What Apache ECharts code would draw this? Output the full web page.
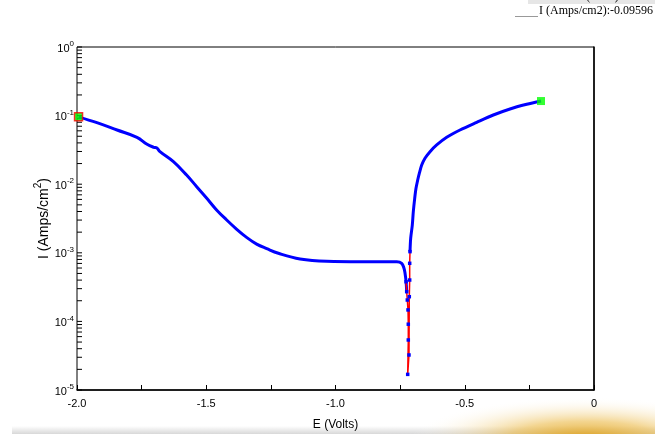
<!DOCTYPE html>
<html>
<head>
<meta charset="utf-8">
<title>Tafel</title>
<script src="https://cdn.jsdelivr.net/npm/echarts@6/dist/echarts.min.js"></script>
<style>
	html, body { margin: 0; padding: 0; background: #fff; }
	#chart { width: 655px; height: 434px; }
</style>
</head>
<body>
<div id="chart"></div>
<script>
// potential (V) and current density (A/cm2) in scan order
const potential = [
	-1.994, -1.923, -1.845, -1.768, -1.729, -1.703, -1.691, -1.679, -1.627, -1.576,
	-1.537, -1.498, -1.460, -1.421, -1.382, -1.344, -1.305, -1.266, -1.221, -1.137,
	-1.034, -0.905, -0.763, -0.744, -0.735, -0.731, -0.727, -0.7246, -0.7222, -0.7195,
	-0.7184, -0.7184, -0.7207, -0.7157, -0.7145, -0.7130, -0.7130, -0.7118, -0.7091, -0.7029,
	-0.6990, -0.6936, -0.6886, -0.6820, -0.6758, -0.6665, -0.6538, -0.6344, -0.6085, -0.5698,
	-0.5184, -0.4538, -0.3896, -0.3250, -0.2603, -0.2050
];
const current = [
	0.0960, 0.0789, 0.0617, 0.0483, 0.0382, 0.0345, 0.0337, 0.0298, 0.0213, 0.0136,
	0.00920, 0.00622, 0.00421, 0.00301, 0.00220, 0.00168, 0.00134, 0.00115, 0.000984, 0.000813,
	0.000752, 0.000741, 0.000741, 0.000703, 0.000594, 0.000502, 0.000379, 0.000271, 0.000205, 0.000147,
	0.0000910, 0.0000536, 0.0000169, 0.0000324, 0.000229, 0.000401, 0.000703, 0.00104, 0.00163, 0.00254,
	0.00398, 0.00622, 0.0087, 0.0115, 0.0144, 0.0190, 0.0239, 0.0298, 0.0373, 0.0483,
	0.0617, 0.0798, 0.102, 0.125, 0.146, 0.163
];
// sparse part around the corrosion potential (red line with blue points)
const dipStart = 26;
const dipEnd = 37;

const xTicks = [-2, -1.75, -1.5, -1.25, -1, -0.75, -0.5, -0.25, 0];
const yTicks = [];
for (let e = -5; e < 0; e++) {
	for (let m = 1; m < 10; m++) yTicks.push(m * Math.pow(10, e));
}
yTicks.push(1);

const points = potential.map((e, i) => [e, current[i]]);

const chart = echarts.init(document.getElementById("chart"), null, { renderer: "canvas" });

chart.setOption({
	animation: false,
	backgroundColor: "#fff",
	textStyle: { fontFamily: "Liberation Sans, Arial, sans-serif" },
	grid: {
		left: 77, right: 61, top: 47, bottom: 44,
		outerBoundsMode: "none",
		show: true, borderColor: "#000", borderWidth: 1
	},
	xAxis: {
		type: "value",
		min: -2, max: 0, interval: 0.5,
		name: "E (Volts)",
		nameLocation: "middle",
		nameGap: 29,
		nameTextStyle: { color: "#000", fontSize: 12 },
		axisLine: { lineStyle: { color: "#000", width: 1.5 } },
		axisTick: { inside: true, length: 5, customValues: xTicks, lineStyle: { color: "#000" } },
		axisLabel: {
			color: "#000", fontSize: 11, margin: 8,
			formatter: v => (v === 0 ? "0" : v.toFixed(1))
		},
		splitLine: { show: false }
	},
	yAxis: {
		type: "log",
		logBase: 10,
		min: 1e-5, max: 1,
		name: "{a|I (Amps/cm}{s|2}{a|)}",
		nameLocation: "middle",
		nameRotate: 90,
		nameGap: 26,
		nameMoveOverlap: false,
		nameTextStyle: {
			rich: {
				a: { color: "#000", fontSize: 14, lineHeight: 18, verticalAlign: "bottom" },
				s: { color: "#000", fontSize: 10, lineHeight: 18, verticalAlign: "top" }
			}
		},
		axisLine: { lineStyle: { color: "#000", width: 1.5 } },
		axisTick: { show: false },
		axisLabel: {
			margin: 3,
			formatter: v => "{b|10}{s|" + Math.round(Math.log10(v)) + "}",
			rich: {
				b: { color: "#000", fontSize: 11, lineHeight: 14, verticalAlign: "bottom" },
				s: { color: "#000", fontSize: 8, lineHeight: 14, verticalAlign: "top" }
			}
		},
		splitLine: { show: false }
	},
	graphic: [
		// bottom shadow band and glow
		{
			type: "rect", silent: true, z: -1,
			shape: { x: 12, y: 426, width: 643, height: 8 },
			style: {
				fill: new echarts.graphic.LinearGradient(0, 0, 0, 1, [
					{ offset: 0, color: "#ffffff" },
					{ offset: 1, color: "#d8d8d8" }
				])
			}
		},
		{
			type: "circle", silent: true, z: 0,
			x: 585, y: 441, scaleX: 4, scaleY: 1,
			shape: { cx: 0, cy: 0, r: 44 },
			style: {
				fill: new echarts.graphic.RadialGradient(0.5, 0.5, 0.5, [
					{ offset: 0, color: "rgba(220,155,15,1)" },
					{ offset: 0.45, color: "rgba(235,185,70,0.6)" },
					{ offset: 1, color: "rgba(255,255,255,0)" }
				])
			}
		},
		// cursor readout in the corner
		{
			type: "rect", silent: true,
			shape: { x: 528, y: 0, width: 127, height: 4 },
			style: { fill: "#e6e6e6" }
		},
		{
			type: "text", silent: true, left: 576, top: -9,
			style: { text: "E (Volts): -1.994", font: "12px Liberation Serif", fill: "#000" }
		},
		{
			type: "line", silent: true,
			shape: { x1: 515, y1: 16.5, x2: 538, y2: 16.5 },
			style: { stroke: "#999", lineWidth: 1 }
		},
		{
			type: "text", silent: true, left: 539, top: 5,
			style: { text: "I (Amps/cm2):-0.09596", font: "12px Liberation Serif", fill: "#000" }
		}
	],
	series: [
		{
			// y ticks inside the left axis (decades and 2..9 in between)
			name: "yTicks",
			type: "custom",
			silent: true,
			clip: false,
			data: yTicks.map(v => [-2, v]),
			renderItem: (params, api) => {
				const p = api.coord([api.value(0), api.value(1)]);
				return {
					type: "line",
					shape: { x1: p[0], y1: p[1], x2: p[0] + 5, y2: p[1] },
					style: { stroke: "#000", lineWidth: 1 }
				};
			},
			z: 2
		},
		{
			name: "cathodic",
			type: "line",
			data: points.slice(0, dipStart + 2),
			showSymbol: false,
			smooth: 0.4,
			lineStyle: { color: "#0000ff", width: 3 },
			z: 3
		},
		{
			name: "anodic",
			type: "line",
			data: points.slice(dipEnd),
			showSymbol: false,
			smooth: 0.3,
			lineStyle: { color: "#0000ff", width: 3 },
			z: 3
		},
		{
			name: "ecorr",
			type: "line",
			data: points.slice(dipStart, dipEnd + 1),
			symbol: "rect",
			symbolSize: 3.5,
			showAllSymbol: true,
			itemStyle: { color: "#0000ff" },
			lineStyle: { color: "#ff0000", width: 1.5 },
			z: 4
		},
		{
			name: "start",
			type: "scatter",
			data: [points[0]],
			symbol: "rect",
			symbolSize: 8,
			itemStyle: { color: "#00ff00", borderColor: "#ff0000", borderWidth: 1.5 },
			z: 5
		},
		{
			name: "end",
			type: "scatter",
			data: [points[points.length - 1]],
			symbol: "rect",
			symbolSize: 8,
			itemStyle: { color: "#00ff00" },
			z: 5
		}
	]
});

window.addEventListener("resize", () => chart.resize());
</script>
</body>
</html>
